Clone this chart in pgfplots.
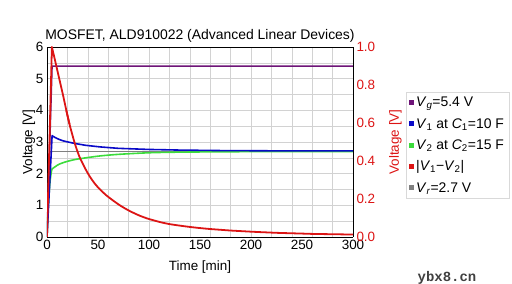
\documentclass[border=0pt]{standalone}
\usepackage{pgfplots}
\pgfplotsset{compat=1.18}
\usepackage{fontspec}
\setmainfont{Liberation Sans}
\newfontfamily\monofont{Liberation Mono}
\definecolor{vgcol}{RGB}{110,20,120}
\definecolor{vonecol}{RGB}{10,10,200}
\definecolor{vtwocol}{RGB}{60,220,60}
\definecolor{redcol}{RGB}{220,20,20}
\definecolor{vrcol}{RGB}{128,128,128}
\begin{document}
\begin{tikzpicture}
\useasboundingbox (-47bp,-47bp) rectangle (465bp,237bp);
\begin{axis}[
  at={(0,0)}, anchor=south west,
  width=306bp, height=190bp, scale only axis,
  xmin=0, xmax=300, ymin=0, ymax=6,
  axis y line*=left, axis x line*=box,
  xtick={0,50,...,300}, ytick={0,1,...,6},
  minor xtick={0,20,...,300}, minor ytick={0,0.5,...,6},
  grid=minor, minor grid style={gray!35, line width=0.4pt},
  major tick length=0pt, minor tick length=0pt,
  axis line style={black, line width=0.8pt},
  ticklabel style={font=\fontsize{13.5}{15}\selectfont},
  /pgf/number format/assume math mode=true,
  title={MOSFET, ALD910022 (Advanced Linear Devices)},
  title style={font=\fontsize{14}{16}\selectfont, yshift=-5bp},
  xlabel={Time [min]}, ylabel={Voltage [V]},
  label style={font=\fontsize{13.5}{15}\selectfont},
  ylabel style={yshift=-6bp},
  xlabel style={yshift=-4bp},
]
\addplot[vrcol, line width=1.4pt] coordinates {(2,2.7) (300,2.7)};
\addplot[vgcol, line width=1.5pt] coordinates {(0,0) (5,5.4) (300,5.4)};
\addplot[vtwocol, line width=1.6pt, smooth] coordinates {
(0,0) (1,0.8) (2,1.35) (3,1.75) (4,2.0) (5,2.15) (8,2.22) (12,2.3) (19,2.38) (28,2.45) (38,2.5) (52,2.56) (70,2.61) (100,2.66) (130,2.68) (170,2.69) (230,2.70) (300,2.70)};
\addplot[vonecol, line width=1.6pt, line join=round] coordinates {
(0,0) (5,3.2) (8,3.14) (12,3.08) (16,3.035) (22,2.99) (28,2.95) (38,2.895) (52,2.845) (70,2.80) (100,2.765) (130,2.745) (170,2.73) (230,2.72) (300,2.72)};
\end{axis}
\begin{axis}[
  at={(0,0)}, anchor=south west,
  width=306bp, height=190bp, scale only axis,
  xmin=0, xmax=300, ymin=0, ymax=1,
  axis x line=none, axis y line*=right,
  ytick={0,0.2,...,1.0},
  major tick length=0pt,
  axis line style={black, line width=0.8pt},
  yticklabel style={font=\fontsize{13.5}{15}\selectfont, text=redcol},
  /pgf/number format/assume math mode=true,
  /pgf/number format/.cd, fixed, fixed zerofill, precision=1, /pgfplots/.cd,
  ylabel={Voltage [V]},
  ylabel style={font=\fontsize{13.5}{15}\selectfont, text=redcol, yshift=-7bp},
  legend cell align=left,
  legend style={at={(1.173,0.763)}, anchor=north west, draw=gray!30,
    font=\fontsize{14}{16}\selectfont, row sep=6bp, inner xsep=3bp, inner ysep=3bp},
  legend image code/.code={\fill[#1, draw=none] (0bp,-2.5bp) rectangle (5bp,2.5bp);},
]
\addlegendimage{vgcol}
\addlegendentry{\textit{V}\textsubscript{\textit{g}}=5.4 V}
\addlegendimage{vonecol}
\addlegendentry{\textit{V}\textsubscript{1} at \textit{C}\textsubscript{1}=10 F}
\addlegendimage{vtwocol}
\addlegendentry{\textit{V}\textsubscript{2} at \textit{C}\textsubscript{2}=15 F}
\addplot[redcol, line width=1.8pt, line join=round] coordinates {
(0,0) (4.8,1.0) (7,0.95) (10,0.88) (13,0.81) (16,0.74) (19,0.665) (22,0.595)};
\addlegendentry{|\textit{V}\textsubscript{1}−\textit{V}\textsubscript{2}|}
\addlegendimage{vrcol}
\addlegendentry{\textit{V}\textsubscript{\textit{r}}=2.7 V}
\addplot[redcol, line width=1.8pt, smooth, tension=0.5, forget plot] coordinates {
(19,0.665) (22,0.595) (25,0.535) (28,0.48) (32,0.42) (37.5,0.36) (42,0.318) (47,0.28) (52,0.25) (58,0.22) (64,0.195) (70,0.172) (75,0.155) (81,0.137) (86,0.124) (91,0.112) (98,0.098) (105,0.087) (112,0.077) (120,0.068) (130,0.060) (140,0.053) (150,0.047) (160,0.042) (170,0.038) (180,0.034) (190,0.031) (200,0.028) (212,0.025) (225,0.022) (237,0.020) (250,0.018) (262,0.016) (275,0.015) (287,0.014) (300,0.013)};
\end{axis}
\node[font=\monofont\bfseries\fontsize{14}{16}\selectfont, text=black!75] at (400bp,-41bp) {ybx8.cn};
\end{tikzpicture}
\end{document}
